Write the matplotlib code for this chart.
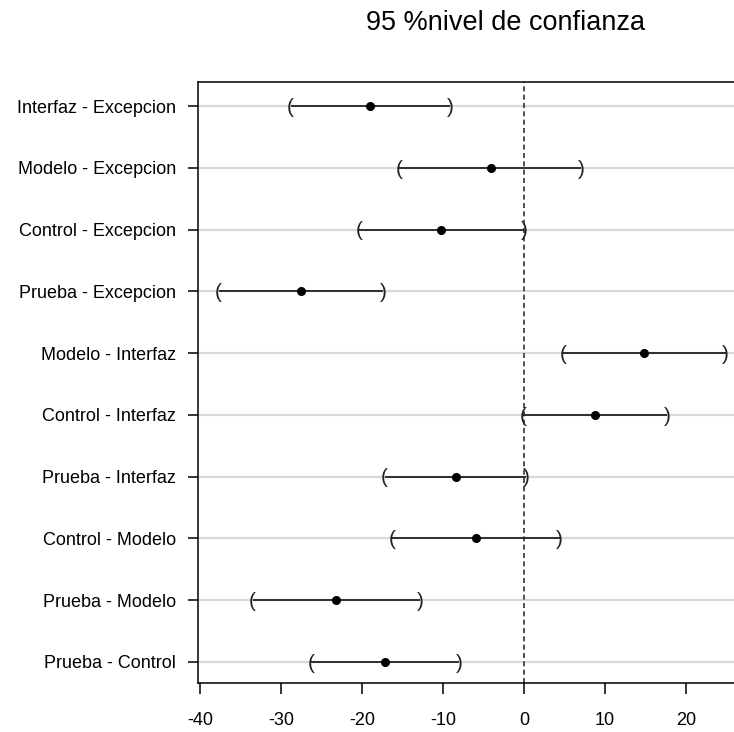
import matplotlib
matplotlib.use("Agg")
import matplotlib.pyplot as plt
import numpy as np

plt.rcParams['font.family'] = ['Liberation Sans', 'DejaVu Sans']

# comparisons listed bottom -> top
comparisons = ["Prueba - Control", "Prueba - Modelo", "Control - Modelo",
               "Prueba - Interfaz", "Control - Interfaz", "Modelo - Interfaz",
               "Prueba - Excepcion", "Control - Excepcion", "Modelo - Excepcion",
               "Interfaz - Excepcion"]
estimate = [-17.1, -23.2, -5.9, -8.4, 8.8, 14.8, -27.5, -10.2, -4.1, -19.0]
lower = [-26.3, -33.5, -16.3, -17.2, -0.1, 4.8, -37.7, -20.4, -15.4, -28.8]
upper = [-8.0, -12.8, 4.4, 0.3, 17.7, 24.9, -17.4, 0.0, 7.1, -9.1]
xticks = [-40, -30, -20, -10, 0, 10, 20]
title = "95 %nivel de confianza"

W, H = 734, 732
fig = plt.figure(figsize=(W / 100, H / 100), dpi=100)
left_px, right_px, top_px, bot_px = 198, 760, 82, 683
ax = fig.add_axes([left_px / W, (H - bot_px) / H,
                   (right_px - left_px) / W, (bot_px - top_px) / H])

y = np.arange(1, len(comparisons) + 1)
ax.set_xlim(-40.25, 29.14)
ax.set_ylim(0.66, 10.39)

for yi in y:
    ax.axhline(yi, color='#d9d9d9', lw=1.6, zorder=1)
ax.axvline(0, color='#333333', lw=1.2, ls=(0, (3, 2)), zorder=2)

ax.hlines(y, lower, upper, color='#222222', lw=1.3, zorder=3)
for yi, lo, up in zip(y, lower, upper):
    ax.text(lo, yi - 0.02, "(", ha='center', va='center', fontsize=15, color='#222222', zorder=4)
    ax.text(up, yi - 0.02, ")", ha='center', va='center', fontsize=15, color='#222222', zorder=4)
ax.plot(estimate, y, 'o', color='black', ms=5.5, zorder=5)

ax.set_yticks(y)
ax.set_yticklabels(comparisons, fontsize=13)
ax.set_xticks(xticks)
ax.set_xticklabels([str(t) for t in xticks], fontsize=13)
ax.tick_params(axis='y', direction='out', length=7.5, width=1.1, pad=8.5)
ax.tick_params(axis='x', direction='out', length=8, width=1.1, pad=13)

ax.spines['right'].set_visible(False)
for s in ['left', 'top', 'bottom']:
    ax.spines[s].set_linewidth(1.1)
    ax.spines[s].set_color('black')

fig.text(506 / W, (H - 30) / H, title, ha='center', va='baseline', fontsize=19.5)

fig.savefig("out.png", dpi=100, facecolor='white')
